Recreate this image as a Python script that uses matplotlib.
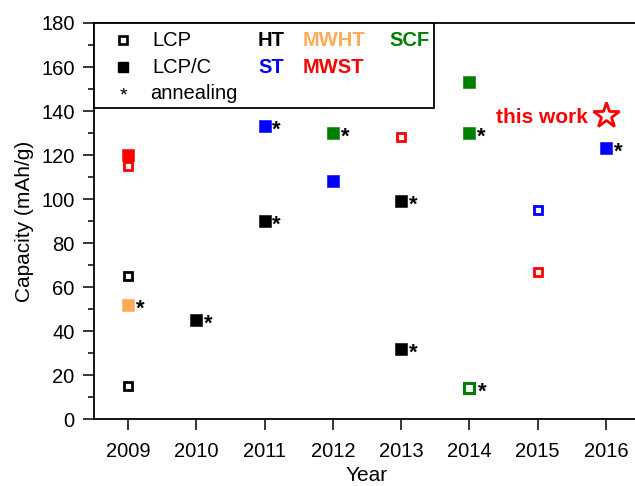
import matplotlib
matplotlib.use("Agg")
import matplotlib.pyplot as plt
from matplotlib.ticker import MultipleLocator

plt.rcParams['font.family'] = ['Liberation Sans', 'DejaVu Sans']

# data: (year, capacity, color, filled, annealing)
years = [2009, 2009, 2009, 2009, 2009, 2010, 2011, 2011, 2012, 2012,
         2013, 2013, 2013, 2014, 2014, 2015, 2015, 2016]
capacity = [120, 115, 65, 52, 15, 45, 133, 90, 130, 108,
            128, 99, 32, 153, 130, 95, 67, 123]
colors = ['red', 'red', 'black', 'orange', 'black', 'black', 'blue', 'black', 'green', 'blue',
          'red', 'black', 'black', 'green', 'green', 'blue', 'red', 'blue']
filled = [True, False, False, True, False, True, True, True, True, True,
          False, True, True, True, True, False, False, True]
annealed = [False, False, False, True, False, True, True, True, True, False,
            False, True, True, False, True, False, False, True]

# special point: open green square, larger (2014)
special_year = [2014]
special_cap = [14]

this_work_year = [2016]
this_work_cap = [138]

xticks = [2009, 2010, 2011, 2012, 2013, 2014, 2015, 2016]

cmap = {'red': '#ff0000', 'black': '#000000', 'orange': '#ffaa55',
        'green': '#008000', 'blue': '#0000ff'}

fig = plt.figure(figsize=(6.35, 4.86), dpi=100)
ax = fig.add_axes([94/635, 1-419/486, (640-94)/635, (419-23)/486])


def star_note(x, y, dx=5.5):
    ax.annotate('*', xy=(x, y), xytext=(dx, -7.0), textcoords='offset points',
                fontsize=16, fontweight='bold', ha='left', va='baseline', annotation_clip=False)


for x, y, c, f, a in zip(years, capacity, colors, filled, annealed):
    col = cmap[c]
    if f:
        ax.plot([x], [y], marker='s', ms=8.0, mfc=col, mec=col, mew=0.4, ls='none', clip_on=False)
    else:
        ax.plot([x], [y], marker='s', ms=6.0, mfc='white', mec=col, mew=2.0, ls='none', clip_on=False)
    if a:
        star_note(x, y)

for x, y in zip(special_year, special_cap):
    ax.plot([x], [y], marker='s', ms=7.6, mfc='white', mec='#008000', mew=2.2, ls='none')
    star_note(x, y, dx=6.5)

for x, y in zip(this_work_year, this_work_cap):
    ax.plot([x], [y], marker='*', ms=19, mfc='white', mec='#ff0000', mew=2, ls='none')
    ax.annotate('this work', xy=(x, y), xytext=(-13, -5.5), textcoords='offset points',
                color='#ff0000', fontsize=15, fontweight='bold', ha='right', va='baseline')

ax.set_xlim(2008.5, 2016.5)
ax.set_ylim(0, 180)
ax.set_xticks(xticks)
ax.set_xticklabels([str(v) for v in xticks])
ax.yaxis.set_major_locator(MultipleLocator(20))
ax.yaxis.set_minor_locator(MultipleLocator(10))
ax.tick_params(axis='both', direction='out', labelsize=14.5, width=1.1)
ax.tick_params(axis='both', which='major', length=8)
ax.tick_params(axis='x', which='major', pad=8.5)
ax.tick_params(axis='y', which='major', pad=6)
ax.tick_params(axis='y', which='minor', length=4.5, width=1.1)
ax.tick_params(axis='x', which='minor', bottom=False)
ax.spines['right'].set_visible(False)
for s in ['left', 'bottom', 'top']:
    ax.spines[s].set_linewidth(1.3)

ax.set_ylabel('Capacity (mAh/g)', fontsize=15, labelpad=5)
ax.set_xlabel('Year', fontsize=15, labelpad=4)

# legend box drawn manually
def fx(px):
    return px / 635
def fy(py):
    return 1 - py / 486

box = plt.Rectangle((fx(94), fy(108)), fx(434) - fx(94), fy(23) - fy(108),
                    transform=fig.transFigure, fill=True, facecolor='white',
                    edgecolor='black', lw=1.3, zorder=5)
fig.patches.append(box)

fig.lines.append(plt.Line2D([fx(123)], [fy(40)], marker='s', ms=5.6, mfc='white', mec='black',
                            mew=1.9, transform=fig.transFigure, zorder=6))
fig.lines.append(plt.Line2D([fx(123)], [fy(67)], marker='s', ms=7.5, mfc='black', mec='black',
                            transform=fig.transFigure, zorder=6))
fig.text(fx(123), fy(100), '*', fontsize=14, ha='center', va='baseline', zorder=6)
fs = 14.5
fig.text(fx(152), fy(46), 'LCP', fontsize=fs, ha='left', va='baseline', zorder=6)
fig.text(fx(152), fy(73), 'LCP/C', fontsize=fs, ha='left', va='baseline', zorder=6)
fig.text(fx(150), fy(99), 'annealing', fontsize=fs, ha='left', va='baseline', zorder=6)

fig.text(fx(258), fy(46), 'HT', fontsize=fs, fontweight='bold', color='black', ha='left', va='baseline', zorder=6)
fig.text(fx(303), fy(46), 'MWHT', fontsize=fs, fontweight='bold', color='#ffaa55', ha='left', va='baseline', zorder=6)
fig.text(fx(389), fy(46), 'SCF', fontsize=fs, fontweight='bold', color='#008000', ha='left', va='baseline', zorder=6)
fig.text(fx(258), fy(73), 'ST', fontsize=fs, fontweight='bold', color='#0000ff', ha='left', va='baseline', zorder=6)
fig.text(fx(303), fy(73), 'MWST', fontsize=fs, fontweight='bold', color='#ff0000', ha='left', va='baseline', zorder=6)

fig.savefig('out.png', dpi=100)
